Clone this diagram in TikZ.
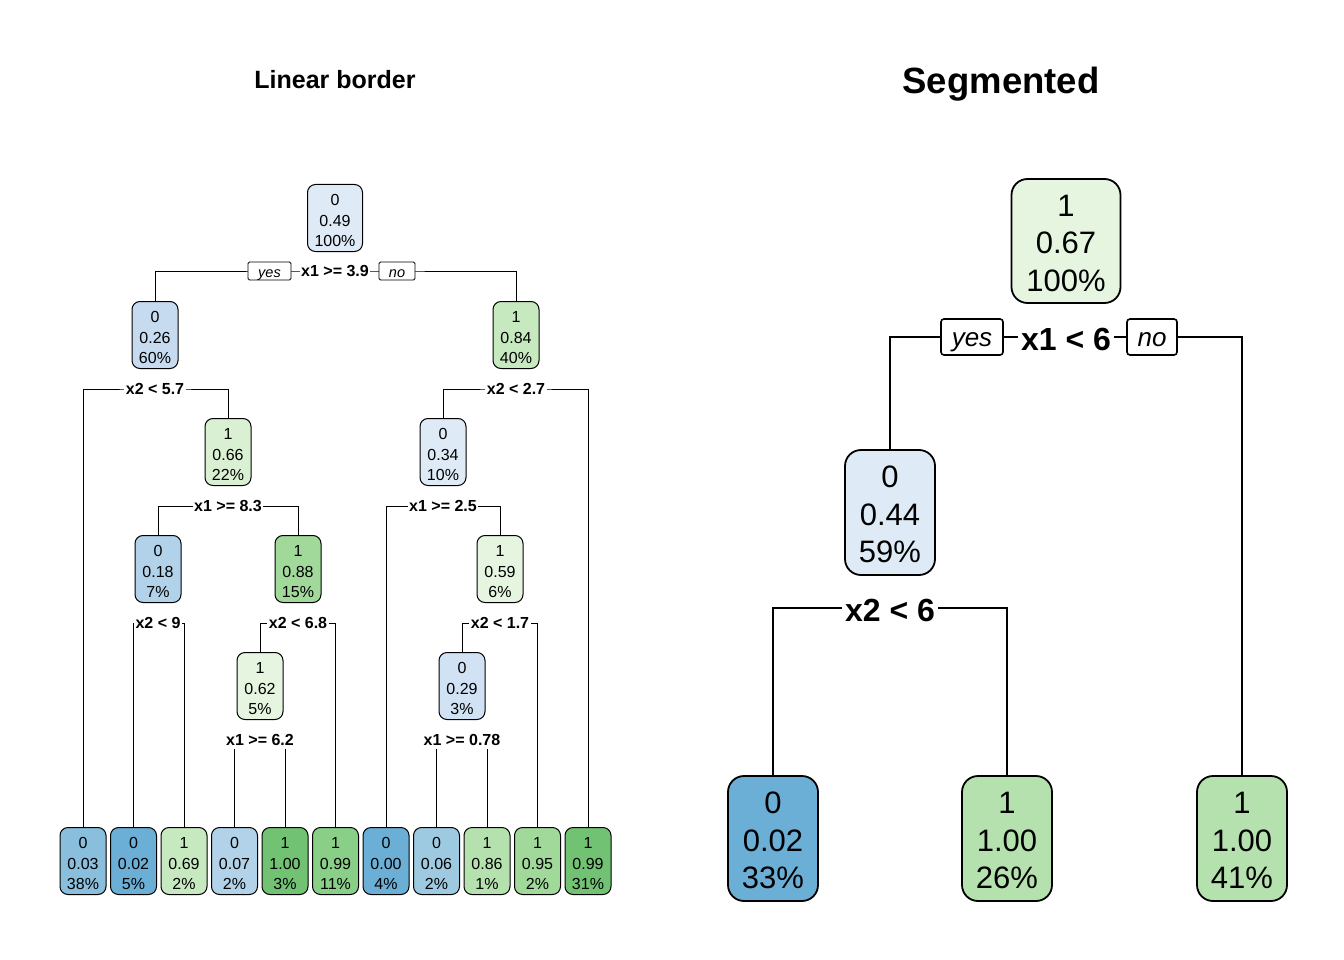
\documentclass[tikz,border=0pt]{standalone}
\usepackage{fontspec}
\setmainfont{Liberation Sans}
\usetikzlibrary{backgrounds}
\definecolor{bA}{HTML}{DEEBF7}
\definecolor{bB}{HTML}{C6DBEF}
\definecolor{bBp}{HTML}{D0E2F3}
\definecolor{bC}{HTML}{B1D2E8}
\definecolor{bD}{HTML}{9ECAE1}
\definecolor{bE}{HTML}{89BEDC}
\definecolor{bF}{HTML}{6BAED6}
\definecolor{gA}{HTML}{E5F5E0}
\definecolor{gB}{HTML}{D9F0D3}
\definecolor{gC}{HTML}{C7E9C0}
\definecolor{gD}{HTML}{B5E1AE}
\definecolor{gE}{HTML}{A1D99B}
\definecolor{gF}{HTML}{8ACF88}
\definecolor{gG}{HTML}{72C273}
\newcommand{\lt}[3]{\rule{0pt}{16.5pt}#1\\#2\\#3}
\newcommand{\rt}[3]{\rule{0pt}{26pt}#1\\#2\\#3}
\tikzset{
  lnode/.style={draw=black, line width=1pt, rounded corners=8pt, minimum width=46pt, minimum height=67pt, inner sep=0pt, align=center, font={\fontsize{16}{20.5}\selectfont}},
  lsplit/.style={fill=white, inner xsep=1.5pt, inner ysep=3pt, font={\fontsize{16}{18}\selectfont\bfseries}},
  lyn/.style={draw=black, fill=white, line width=0.9pt, rounded corners=1.5pt, minimum height=18pt, inner sep=0pt, text height=14pt, text depth=2pt, font={\fontsize{14.5}{16}\selectfont\itshape}},
  ledge/.style={line width=1pt},
  rnode/.style={draw=black, line width=1.8pt, rounded corners=16pt, minimum width=90pt, minimum height=125pt, inner sep=0pt, align=center, font={\fontsize{31}{37.5}\selectfont}},
  rsplit/.style={fill=white, inner xsep=3pt, inner ysep=4pt, font={\fontsize{32}{36}\selectfont\bfseries}},
  ryn/.style={draw=black, fill=white, line width=1.6pt, rounded corners=3pt, minimum height=36pt, inner sep=0pt, text height=23pt, text depth=4pt, font={\fontsize{26}{30}\selectfont\itshape}},
  redge/.style={line width=2pt},
  ttl/.style={font={\fontsize{25}{30}\selectfont\bfseries}},
}
\begin{document}
\begin{tikzpicture}[x=1pt, y=-1pt]
\useasboundingbox (0,0) rectangle (1344,960);

% ---------------- titles
\node[ttl] (t1) at (335,80) {Linear border};
\node[ttl, font={\fontsize{36.5}{40}\selectfont\bfseries}] (t2) at (1001,84) {Segmented};

% ---------------- left tree nodes
\node[lnode, fill=bA, minimum width=55pt] (r) at (335,218) {\lt{0}{0.49}{100\%}};
\node[lnode, fill=bB] (a) at (155,335) {\lt{0}{0.26}{60\%}};
\node[lnode, fill=gC] (b) at (516,335) {\lt{1}{0.84}{40\%}};
\node[lnode, fill=gB] (c) at (228,452) {\lt{1}{0.66}{22\%}};
\node[lnode, fill=bA] (d) at (443,452) {\lt{0}{0.34}{10\%}};
\node[lnode, fill=bC] (e) at (158,569) {\lt{0}{0.18}{7\%}};
\node[lnode, fill=gE] (f) at (298,569) {\lt{1}{0.88}{15\%}};
\node[lnode, fill=gA] (g) at (500,569) {\lt{1}{0.59}{6\%}};
\node[lnode, fill=gA] (h) at (260,686) {\lt{1}{0.62}{5\%}};
\node[lnode, fill=bBp] (i) at (462,686) {\lt{0}{0.29}{3\%}};

\node[lnode, fill=bE] (l1) at (83,861) {\lt{0}{0.03}{38\%}};
\node[lnode, fill=bF] (l2) at (133.5,861) {\lt{0}{0.02}{5\%}};
\node[lnode, fill=gC] (l3) at (184,861) {\lt{1}{0.69}{2\%}};
\node[lnode, fill=bC] (l4) at (234.5,861) {\lt{0}{0.07}{2\%}};
\node[lnode, fill=gG] (l5) at (285,861) {\lt{1}{1.00}{3\%}};
\node[lnode, fill=gF] (l6) at (335.5,861) {\lt{1}{0.99}{11\%}};
\node[lnode, fill=bF] (l7) at (386,861) {\lt{0}{0.00}{4\%}};
\node[lnode, fill=bD] (l8) at (436.5,861) {\lt{0}{0.06}{2\%}};
\node[lnode, fill=gD] (l9) at (487,861) {\lt{1}{0.86}{1\%}};
\node[lnode, fill=gE] (l10) at (537.5,861) {\lt{1}{0.95}{2\%}};
\node[lnode, fill=gG] (l11) at (588,861) {\lt{1}{0.99}{31\%}};

% split labels
\node[lsplit] (s0) at (335,271) {x1 >= 3.9};
\node[lsplit] (sa) at (155,389) {x2 < 5.7};
\node[lsplit] (sb) at (516,389) {x2 < 2.7};
\node[lsplit] (sc) at (228,506) {x1 >= 8.3};
\node[lsplit] (sd) at (443,506) {x1 >= 2.5};
\node[lsplit] (se) at (158,623) {x2 < 9};
\node[lsplit] (sf) at (298,623) {x2 < 6.8};
\node[lsplit] (sg) at (500,623) {x2 < 1.7};
\node[lsplit] (sh) at (260,740) {x1 >= 6.2};
\node[lsplit] (si) at (462,740) {x1 >= 0.78};

\node[lyn, minimum width=43pt] (yes1) at (269.5,271) {yes};
\node[lyn, minimum width=36pt] (no1) at (397,271) {no};

% ---------------- right tree
\node[rnode, fill=gA, minimum width=109pt, minimum height=124pt] (R0) at (1066,241) {\rt{1}{0.67}{100\%}};
\node[rnode, fill=bA] (R1) at (890,512.5) {\rt{0}{0.44}{59\%}};
\node[rnode, fill=bF] (R2) at (773,838.5) {\rt{0}{0.02}{33\%}};
\node[rnode, fill=gD] (R3) at (1007,838.5) {\rt{1}{1.00}{26\%}};
\node[rnode, fill=gD] (R4) at (1242,838.5) {\rt{1}{1.00}{41\%}};

\node[rsplit] (rs0) at (1066,339) {x1 < 6};
\node[rsplit] (rs1) at (890,610) {x2 < 6};
\node[ryn, minimum width=62pt] (yes2) at (972,337) {yes};
\node[ryn, minimum width=50pt] (no2) at (1152,337) {no};

\begin{pgfonlayer}{background}
\fill[white] (0,0) rectangle (1344,960);
\draw[ledge] (a.north) |- (s0.center) -| (b.north);
\draw[ledge] (l1.north) |- (sa.center) -| (c.north);
\draw[ledge] (d.north) |- (sb.center) -| (l11.north);
\draw[ledge] (e.north) |- (sc.center) -| (f.north);
\draw[ledge] (l7.north) |- (sd.center) -| (g.north);
\draw[ledge] (l2.north) |- (se.center) -| (l3.north);
\draw[ledge] (h.north) |- (sf.center) -| (l6.north);
\draw[ledge] (i.north) |- (sg.center) -| (l10.north);
\draw[ledge] (l4.north) |- (sh.center) -| (l5.north);
\draw[ledge] (l8.north) |- (si.center) -| (l9.north);
\draw[redge] (R1.north) |- ([yshift=2pt]rs0.center) -| (R4.north);
\draw[redge] (R2.north) |- ([yshift=2pt]rs1.center) -| (R3.north);
\end{pgfonlayer}
\end{tikzpicture}
\end{document}
